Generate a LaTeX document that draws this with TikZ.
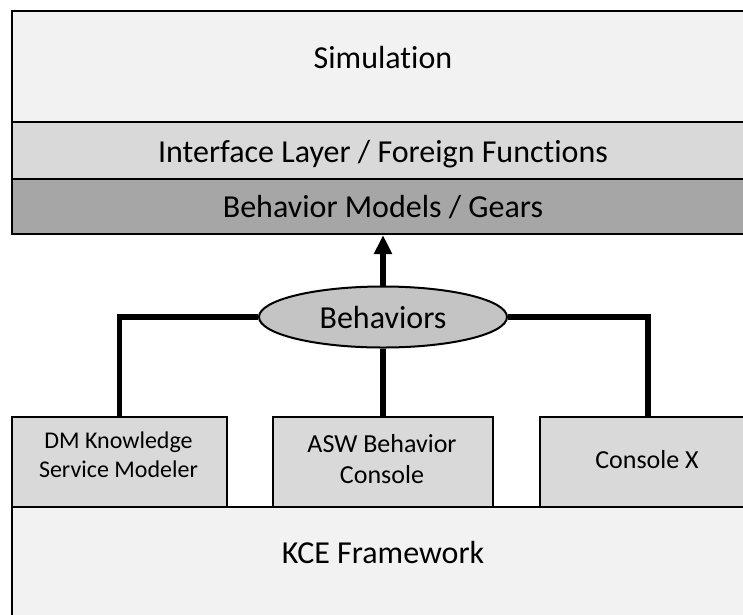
\documentclass[tikz,border=0pt]{standalone}
\usepackage{fontspec}
\setmainfont[RawFeature=-liga]{Carlito}
\usetikzlibrary{shapes.geometric,arrows.meta}
\definecolor{simfill}{HTML}{F2F2F2}
\definecolor{ifacefill}{HTML}{D9D9D9}
\definecolor{modelfill}{HTML}{A6A6A6}
\definecolor{bhvfill}{HTML}{C4C4C4}
\definecolor{toolfill}{HTML}{D9D9D9}

\begin{document}
\begin{tikzpicture}[
    x=1pt, y=-1pt,
    layer/.style={draw, line width=2pt, anchor=north west, inner sep=0pt, minimum width=744pt},
    tool/.style={draw, line width=2pt, fill=toolfill, anchor=north west, inner sep=0pt, minimum height=90pt},
    bigtxt/.style={font=\fontsize{32}{38}\selectfont, inner sep=0pt, anchor=base},
    smalltxt/.style={font=\fontsize{26}{31}\selectfont, inner sep=0pt, align=center},
    conn/.style={draw, line width=5.5pt}
]
\useasboundingbox (0,0) rectangle (743,614);

% Upper stack
\node[layer, fill=simfill, minimum height=111pt] (sim) at (11,10) {};
\node[layer, fill=ifacefill, minimum height=57pt] (iface) at (11,121) {};
\node[layer, fill=modelfill, minimum height=55pt] (models) at (11,178) {};
\node[bigtxt] (simtxt) at (383,68) {Simulation};
\node[bigtxt] (ifacetxt) at (383,162) {Interface Layer / Foreign Functions};
\node[bigtxt] (modelstxt) at (383,217) {Behavior Models / Gears};

% Lower stack
\node[layer, fill=simfill, minimum height=120pt] (kce) at (11,506) {};
\node[bigtxt] (kcetxt) at (383,563) {KCE Framework};
\node[tool, minimum width=215pt] (dm) at (11,416) {};
\node[tool, minimum width=220pt] (asw) at (272,416) {};
\node[tool, minimum width=216pt] (conx) at (539,416) {};
\node[smalltxt, font=\fontsize{24}{29}\selectfont] (dmtxt) at (118.5,455) {DM Knowledge\\Service Modeler};
\node[smalltxt] (aswtxt) at (382,459) {ASW Behavior\\Console};
\node[smalltxt, anchor=base] (conxtxt) at (647,468) {Console X};

% Behaviors
\node[ellipse, draw, line width=2pt, fill=bhvfill, minimum width=248pt, minimum height=61pt,
      inner sep=0pt, font=\fontsize{32}{38}\selectfont] (bhv) at (383,317) {Behaviors};

\draw[conn, -{Triangle[width=17pt, length=19pt]}] (bhv.north) -- (bhv.north |- models.south);
\draw[conn] (bhv.west) -| (dm.north);
\draw[conn] (bhv.south) -- (bhv.south |- asw.north);
\draw[conn] (bhv.east) -| (conx.north);
\end{tikzpicture}
\end{document}
